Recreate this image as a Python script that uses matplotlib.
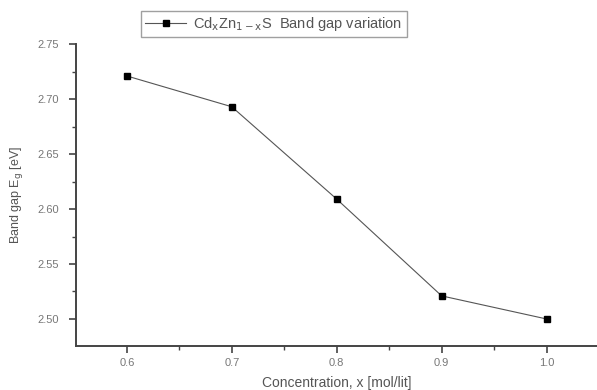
import matplotlib
matplotlib.use("Agg")
import matplotlib.pyplot as plt
from matplotlib.ticker import MultipleLocator

# Band gap vs concentration
conc = [0.6, 0.7, 0.8, 0.9, 1.0]
band_gap = [2.721, 2.693, 2.609, 2.521, 2.500]
x_ticks = [0.6, 0.7, 0.8, 0.9, 1.0]
y_ticks = [2.50, 2.55, 2.60, 2.65, 2.70, 2.75]

plt.rcParams['font.family'] = ['Liberation Sans', 'DejaVu Sans']

fig = plt.figure(figsize=(5.97, 3.90), dpi=100)
ax = fig.add_axes([0.127, 0.113, 0.873, 0.774])

ax.plot(conc, band_gap, color='#555555', lw=0.8, marker='s', ms=4.5,
        mfc='black', mec='black',
        label=r'Cd$_\mathrm{x}$Zn$_\mathrm{1-x}$S  Band gap variation')

ax.set_xlim(0.5514, 1.048)
ax.set_ylim(2.4755, 2.75)
ax.set_xticks(x_ticks)
ax.set_xticklabels(['%.1f' % v for v in x_ticks])
ax.set_yticks(y_ticks)
ax.set_yticklabels(['%.2f' % v for v in y_ticks])
ax.xaxis.set_minor_locator(MultipleLocator(0.05))
ax.yaxis.set_minor_locator(MultipleLocator(0.025))

for side in ['top', 'right']:
    ax.spines[side].set_visible(False)
for side in ['left', 'bottom']:
    ax.spines[side].set_color('#444444')
    ax.spines[side].set_linewidth(1.4)

ax.tick_params(which='major', direction='out', length=5, width=1.2,
               color='#444444', labelsize=8, labelcolor='#777777')
ax.tick_params(axis='y', which='major', pad=7)
ax.tick_params(which='minor', direction='out', length=3, width=1,
               color='#444444')

ax.set_xlabel('Concentration, x [mol/lit]', fontsize=10, color='#555555',
              labelpad=6)
ax.set_ylabel(r'Band gap E$_\mathrm{g}$ [eV]', fontsize=9, color='#555555',
              labelpad=9)

leg = ax.legend(loc='upper center', bbox_to_anchor=(0.38, 1.125),
                frameon=True, fancybox=False, fontsize=10.5, handlelength=2.8,
                borderpad=0.3, borderaxespad=0.3, handletextpad=0.5,
                labelcolor='#555555')
leg.get_frame().set_edgecolor('#888888')
leg.get_frame().set_linewidth(1.0)

fig.savefig('out.png', dpi=100)
